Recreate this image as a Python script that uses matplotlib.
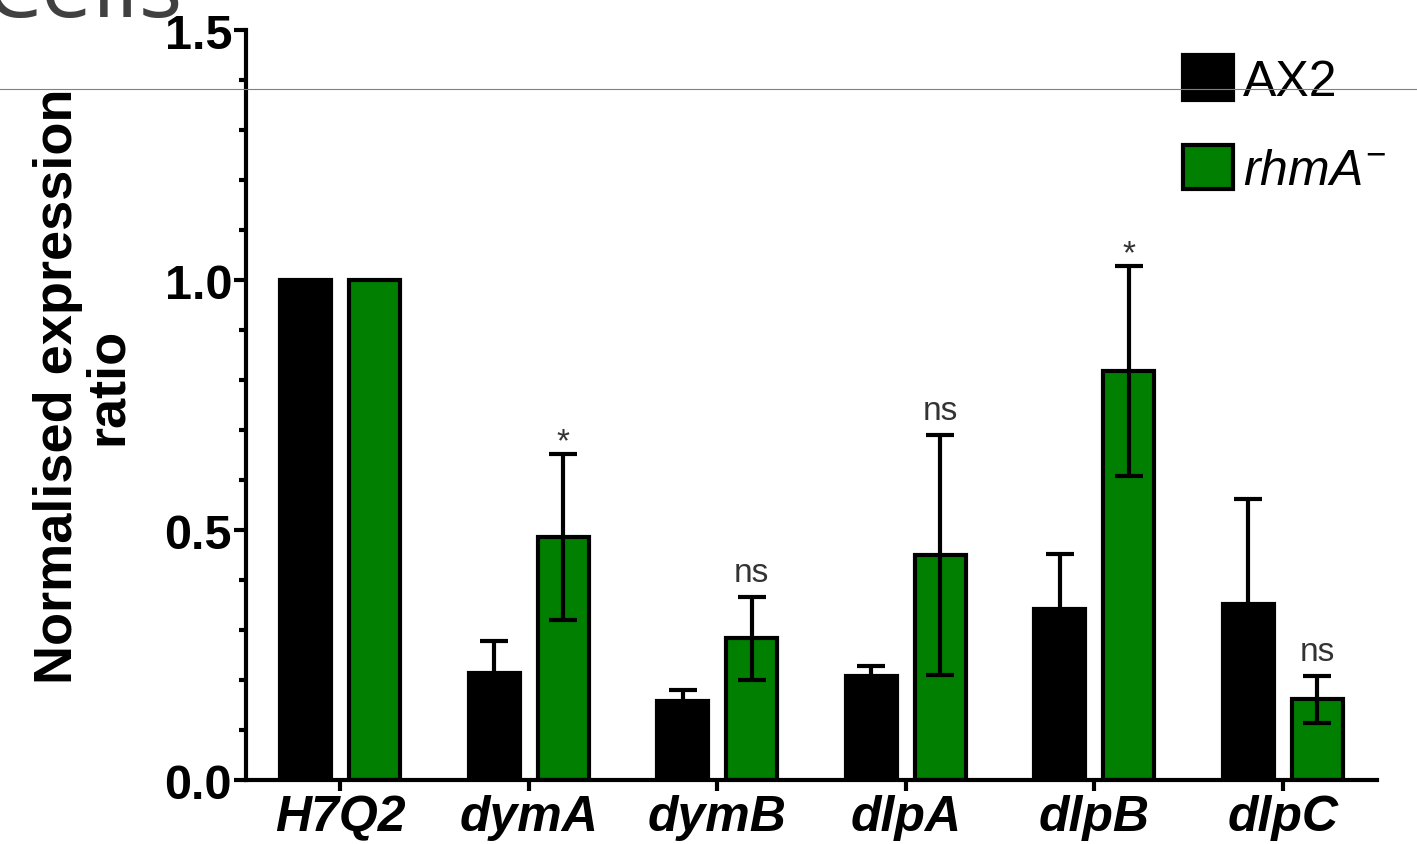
import matplotlib
matplotlib.use('Agg')
import matplotlib.pyplot as plt
from matplotlib.ticker import MultipleLocator
from matplotlib.lines import Line2D
import numpy as np

plt.rcParams['font.family'] = ['Liberation Sans', 'DejaVu Sans']
plt.rcParams['mathtext.fontset'] = 'custom'
plt.rcParams['mathtext.rm'] = 'Liberation Sans'
plt.rcParams['mathtext.it'] = 'Liberation Sans:italic'

genes = ['H7Q2', 'dymA', 'dymB', 'dlpA', 'dlpB', 'dlpC']
ax2 = [1.0, 0.214, 0.158, 0.208, 0.342, 0.352]
ax2_err = [0.0, 0.064, 0.022, 0.020, 0.110, 0.210]
rhma = [1.0, 0.486, 0.284, 0.450, 0.818, 0.162]
rhma_err = [0.0, 0.166, 0.083, 0.240, 0.210, 0.047]
signif = ['', '*', 'ns', 'ns', '*', 'ns']

fig = plt.figure(figsize=(14.17, 8.45), dpi=100)
ax = fig.add_axes([0.1736, 0.0757, 0.7982, 0.8876])

x = np.arange(len(genes))
w = 0.27
off = 0.183
green = '#007f00'

ax.bar(x - off, ax2, w, color='black', edgecolor='black', linewidth=3, label='AX2', zorder=2)
ax.bar(x + off, rhma, w, color=green, edgecolor='black', linewidth=3,
       label=r'$\mathit{rhmA}^{-}$', zorder=2)
ax.errorbar(x[1:] - off, ax2[1:], yerr=ax2_err[1:], fmt='none', ecolor='black',
            elinewidth=3, capsize=10, capthick=3, zorder=3)
ax.errorbar(x[1:] + off, rhma[1:], yerr=rhma_err[1:], fmt='none', ecolor='black',
            elinewidth=3, capsize=10, capthick=3, zorder=3)

for i, s in enumerate(signif):
    if not s:
        continue
    dy = 11.5 if s == 'ns' else 3
    ax.annotate(s, (x[i] + off, rhma[i] + rhma_err[i]), xytext=(0, dy),
                textcoords='offset points', ha='center', va='baseline',
                fontsize=24, color='#333333')

ax.set_xlim(-0.5, 5.5)
ax.set_ylim(0, 1.5)
ax.yaxis.set_minor_locator(MultipleLocator(0.1))
ax.set_yticks([0, 0.5, 1.0, 1.5])
ax.set_yticklabels(['0.0', '0.5', '1.0', '1.5'], fontsize=35, fontweight='bold')
ax.set_xticks(x)
ax.set_xticklabels(genes, fontsize=36, fontweight='bold', fontstyle='italic')
ax.tick_params(axis='y', which='major', length=9, width=3, pad=1)
ax.tick_params(axis='y', which='minor', length=5, width=3)
ax.tick_params(axis='x', which='major', length=8, width=3, pad=2)

for side in ['top', 'right']:
    ax.spines[side].set_visible(False)
for side in ['left', 'bottom']:
    ax.spines[side].set_linewidth(3)

ax.set_ylabel('Normalised expression\nratio', fontsize=39, fontweight='bold',
              linespacing=1.0, ha='center')
ax.yaxis.set_label_coords(-0.100, 0.526)

ax.legend(loc='upper left', bbox_to_anchor=(1183 / 1417, 1 - 56 / 845),
          bbox_transform=fig.transFigure, frameon=False, fontsize=36,
          handlelength=1.0, handleheight=1.0, handletextpad=0.2,
          labelspacing=0.8, borderpad=0, borderaxespad=0)

fig.text(-0.012, 1 - 17 / 845, 'Cells', fontsize=66, family='Open Sans',
         color='#404040', va='baseline', ha='left')
fig.add_artist(Line2D([0, 1], [1 - 90 / 845, 1 - 90 / 845], transform=fig.transFigure,
                      color='#808080', linewidth=0.8))

fig.savefig('out.png', dpi=100)
